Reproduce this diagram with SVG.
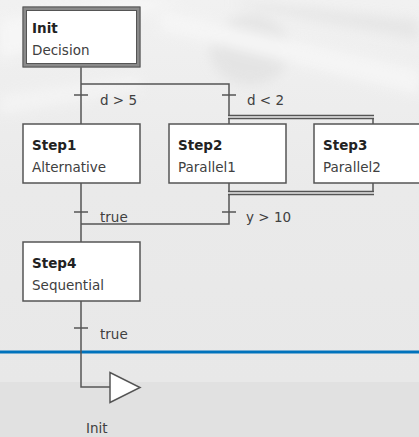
<svg xmlns="http://www.w3.org/2000/svg" width="419" height="437" viewBox="0 0 419 437">
<defs>
<style>
.box{fill:#ffffff;stroke:#555555;stroke-width:1.5}
.ln{fill:none;stroke:#555555;stroke-width:1.5}
.t{font-family:"DejaVu Sans",Verdana,sans-serif;font-size:13.5px;fill:#404040}
.b{font-family:"DejaVu Sans",Verdana,sans-serif;font-size:13.5px;font-weight:bold;fill:#222222}
</style>
<linearGradient id="bg" x1="0" y1="0" x2="0" y2="1">
<stop offset="0" stop-color="#f1f1f1"/>
<stop offset="0.5" stop-color="#eaeaea"/>
<stop offset="1" stop-color="#e8e8e8"/>
</linearGradient>
<filter id="blur" x="-20%" y="-50%" width="140%" height="200%"><feGaussianBlur stdDeviation="6"/></filter>
</defs>
<g id="background">
<rect x="0" y="0" width="419" height="382" fill="url(#bg)"/>
<g filter="url(#blur)" opacity="0.8">
<path d="M0 20 L120 0 L180 0 L0 60 Z" fill="#f8f8f8"/>
<ellipse cx="250" cy="50" rx="40" ry="35" fill="#e2e2e2"/>
<path d="M160 10 L419 70 L419 95 L160 30 Z" fill="#f7f7f7"/>
<path d="M230 0 L419 20 L419 40 L260 10 Z" fill="#e4e4e4"/>
<path d="M0 95 L140 75 L140 90 L0 115 Z" fill="#f5f5f5"/>
</g>
<rect x="0" y="382" width="419" height="55" fill="#e1e1e1"/>
<rect x="0" y="350.5" width="419" height="3" fill="#0072bc"/>
</g>
<g id="connectors">
<path class="ln" d="M81 67 V124 M81 84 H229 V115"/>
<path class="ln" d="M74 95 H88 M222 95 H236"/>
<path class="ln" d="M228 115.5 H374 M228 118.5 H374 M229 118.5 V124 M373 118.5 V124"/>
<path class="ln" d="M229 183 V191 M373 183 V191 M228 191.5 H374 M228 194.5 H374 M229 194.5 V224 H81"/>
<path class="ln" d="M81 183 V242 M74 212 H88 M222 212 H236"/>
<path class="ln" d="M81 301 V387 H110 M74 328 H88"/>
<text class="t" x="100" y="105">d &gt; 5</text>
<text class="t" x="247" y="105">d &lt; 2</text>
<text class="t" x="100" y="222">true</text>
<text class="t" x="246" y="222">y &gt; 10</text>
<text class="t" x="100" y="339">true</text>
</g>
<g id="Init">
<rect x="24.5" y="8.5" width="114" height="57" fill="#ffffff" stroke="#8a8a8a" stroke-width="4"/>
<rect x="23" y="7" width="117" height="60" fill="none" stroke="#555555" stroke-width="1"/>
<rect x="26.5" y="10.5" width="110" height="53" fill="none" stroke="#555555" stroke-width="1"/>
<text class="b" x="32" y="33">Init</text>
<text class="t" x="32" y="55">Decision</text>
</g>
<g id="Step1">
<rect class="box" x="23" y="124" width="117" height="59"/>
<text class="b" x="32" y="150">Step1</text>
<text class="t" x="32" y="172">Alternative</text>
</g>
<g id="Step2">
<rect class="box" x="169" y="124" width="117" height="59"/>
<text class="b" x="178" y="150">Step2</text>
<text class="t" x="178" y="172">Parallel1</text>
</g>
<g id="Step3">
<rect class="box" x="314" y="124" width="117" height="59"/>
<text class="b" x="323" y="150">Step3</text>
<text class="t" x="323" y="172">Parallel2</text>
</g>
<g id="Step4">
<rect class="box" x="23" y="242" width="117" height="59"/>
<text class="b" x="32" y="268">Step4</text>
<text class="t" x="32" y="290">Sequential</text>
</g>
<g id="Jump">
<polygon points="110,372.5 110,402.5 140,387.5" fill="#ffffff" stroke="#555555" stroke-width="1.5"/>
<text class="t" x="86" y="433">Init</text>
</g>
</svg>
